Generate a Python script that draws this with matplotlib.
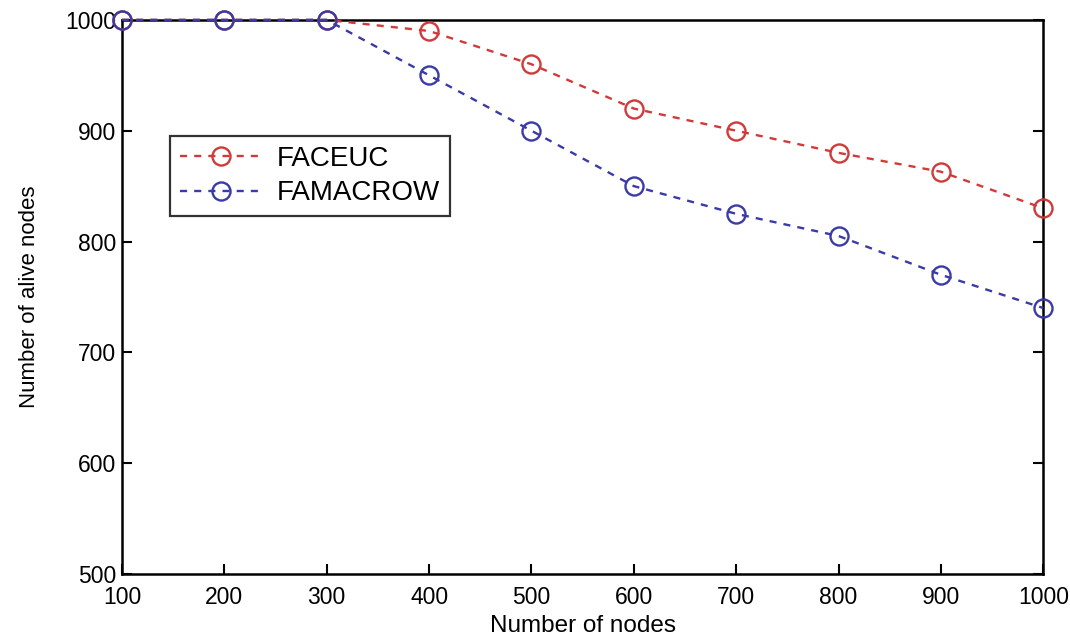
import matplotlib
matplotlib.use('Agg')
import matplotlib.pyplot as plt

nodes = [100, 200, 300, 400, 500, 600, 700, 800, 900, 1000]
faceuc = [1000, 1000, 1000, 990, 960, 920, 900, 880, 863, 830]
famacrow = [1000, 1000, 1000, 950, 900, 850, 825, 805, 770, 740]

plt.rcParams['font.family'] = ['Liberation Sans', 'DejaVu Sans']

fig = plt.figure(figsize=(10.7, 6.42), dpi=100)
ax = fig.add_axes([0.114, 0.106, 0.861, 0.863])

ax.plot(nodes, faceuc, '--o', color='#d03a3a', mfc='none', ms=13, mew=1.7,
        lw=1.7, dashes=(3, 3), label='FACEUC', clip_on=False, zorder=3)
ax.plot(nodes, famacrow, '--o', color='#3a3aa8', mfc='none', ms=13, mew=1.7,
        lw=1.7, dashes=(3, 3), label='FAMACROW', clip_on=False, zorder=3)

ax.set_xlim(100, 1000)
ax.set_ylim(500, 1000)
ax.set_xticks(nodes)
ax.set_yticks([500, 600, 700, 800, 900, 1000])
ax.tick_params(direction='in', length=7, width=1.5, labelsize=16.5,
               top=False, right=True)
ax.tick_params(axis='x', pad=9)
ax.tick_params(axis='y', pad=4)
for s in ax.spines.values():
    s.set_linewidth(1.8)

ax.set_xlabel('Number of nodes', fontsize=17.5, labelpad=4)
ax.set_ylabel('Number of alive nodes', fontsize=16, labelpad=18)

leg = ax.legend(loc='upper left', bbox_to_anchor=(0.052, 0.79), fontsize=20,
                frameon=True, fancybox=False, edgecolor='black',
                handlelength=3, borderpad=0.35, labelspacing=0.3,
                handletextpad=0.5, borderaxespad=0)
leg.get_frame().set_linewidth(1.6)

fig.savefig('out.png', dpi=100)
